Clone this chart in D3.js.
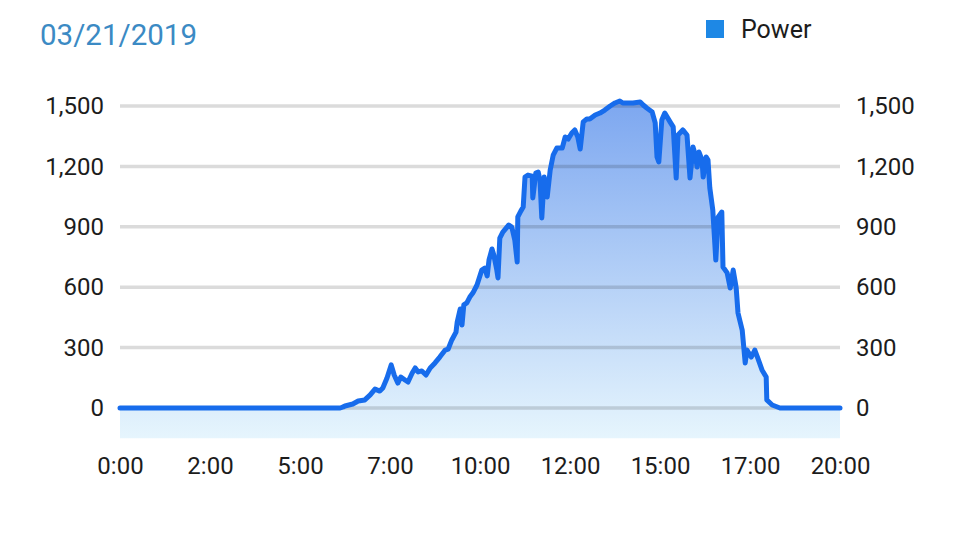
<!DOCTYPE html>
<html><head><meta charset="utf-8">
<script src="https://cdn.jsdelivr.net/npm/d3@7"></script>
<style>html,body{margin:0;padding:0;background:#fff;}svg{display:block;font-family:Roboto,"Noto Sans",sans-serif;}</style>
</head><body>
<svg id="c" width="960" height="547"></svg>
<script>
const title = "03/21/2019";
const seriesName = "Power";
// time in minutes after midnight
const minutes = [0,367,372,375,388,397,408,417,425,433,438,445,452,457,463,468,475,480,487,492,497,503,510,517,525,533,542,547,553,560,562,567,570,573,578,583,588,595,603,608,612,615,620,623,628,630,633,638,648,653,658,662,663,668,672,675,680,687,688,693,697,700,703,707,712,717,722,728,737,742,747,753,758,763,767,772,778,783,792,800,808,817,825,833,838,847,855,867,872,878,887,892,895,898,903,908,917,922,927,930,938,945,950,955,958,962,965,970,972,977,980,983,988,993,997,1003,1005,1012,1017,1022,1027,1030,1037,1042,1045,1052,1058,1063,1070,1077,1078,1087,1100,1200];
const power = [0,0,5,10,20,35,40,65,94,84,99,149,214,164,124,154,139,129,174,199,179,184,164,199,224,253,288,293,338,377,427,492,412,512,522,551,571,611,685,695,656,735,790,760,685,646,844,874,909,899,834,725,949,978,998,1147,1157,1152,1043,1167,1172,1132,944,1147,1048,1182,1256,1291,1291,1346,1336,1366,1381,1346,1286,1421,1435,1435,1455,1465,1480,1500,1515,1525,1515,1515,1515,1520,1505,1490,1470,1416,1247,1222,1430,1465,1420,1396,1142,1356,1381,1356,1142,1296,1266,1197,1271,1232,1147,1247,1232,1093,983,735,949,973,700,671,596,685,596,472,387,224,288,253,288,248,189,154,40,15,0,0];
const xTickMinutes = [0,150,300,450,600,750,900,1050,1200];
const xTickLabels = ["0:00","2:00","5:00","7:00","10:00","12:00","15:00","17:00","20:00"];
const yTicks = [0,300,600,900,1200,1500];

const data = minutes.map((m,i)=>({t:m, v:power[i]}));
const svg = d3.select("#c");
const x = d3.scaleLinear().domain([0,1200]).range([120,840]);
const y = d3.scaleLinear().domain([0,1500]).range([408,106]);
const fmt = d3.format(",");

const defs = svg.append("defs");
const grad = defs.append("linearGradient").attr("id","g").attr("gradientUnits","userSpaceOnUse")
  .attr("x1",0).attr("x2",0).attr("y1",y(1500)).attr("y2",y(-150));
grad.append("stop").attr("offset","0%").attr("stop-color","#7ea8f0");
grad.append("stop").attr("offset","100%").attr("stop-color","#e6f5fd");

// area
svg.append("path").datum(data)
  .attr("d", d3.area().x(d=>x(d.t)).y0(y(-150)).y1(d=>y(d.v)))
  .attr("fill","url(#g)");

// grid
svg.append("g").selectAll("line").data(yTicks).join("line")
  .attr("x1",x(0)).attr("x2",x(1200)).attr("y1",d=>y(d)).attr("y2",d=>y(d))
  .attr("stroke","rgba(0,0,0,0.14)").attr("stroke-width",3.5);

// line
svg.append("path").datum(data)
  .attr("d", d3.line().x(d=>x(d.t)).y(d=>y(d.v)))
  .attr("fill","none").attr("stroke","#176cec").attr("stroke-width",5)
  .attr("stroke-linejoin","round").attr("stroke-linecap","round");

// axes
const yl = d3.axisLeft(y).tickValues(yTicks).tickFormat(fmt).tickSize(0).tickPadding(16);
const yr = d3.axisRight(y).tickValues(yTicks).tickFormat(fmt).tickSize(0).tickPadding(16);
const xa = d3.axisBottom(x).tickValues(xTickMinutes).tickFormat((d,i)=>xTickLabels[i]).tickSize(0).tickPadding(0);
function style(g){ g.select(".domain").remove(); g.selectAll("text").attr("font-size",24).attr("fill","#1c1c1c").style("font-family","Roboto, sans-serif"); }
svg.append("g").attr("transform","translate(120,0)").call(yl).call(style);
svg.append("g").attr("transform","translate(840,0)").call(yr).call(style);
svg.append("g").attr("transform","translate(0,457)").call(xa).call(style);

// title
svg.append("text").attr("x",40).attr("y",45).text(title)
  .attr("font-size",29.5).attr("fill","#3b8ac4");
// legend
svg.append("rect").attr("x",706).attr("y",20).attr("width",18).attr("height",18).attr("fill","#1e88e5");
svg.append("text").attr("x",741).attr("y",38).text(seriesName).attr("font-size",25).attr("fill","#1c1c1c");
</script>
</body></html>
